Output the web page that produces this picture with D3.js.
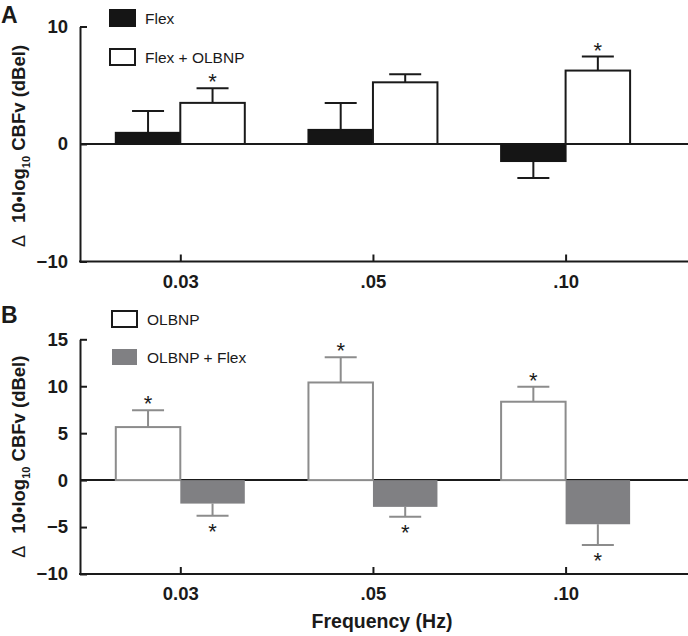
<!DOCTYPE html>
<html>
<head>
<meta charset="utf-8">
<script src="https://cdn.jsdelivr.net/npm/d3@7"></script>
<style>
  body { margin: 0; background: #fff; }
  svg { display: block; font-family: "Liberation Sans", Arial, sans-serif; }
</style>
</head>
<body>
<script>
var W = 688, H = 636;

// frequencies (x categories)
var freqs = ["0.03", ".05", ".10"];

// panel A
var flexA = [0.95, 1.2, -1.45];
var flexAErr = [1.85, 2.3, 1.45];
var flexAStar = [false, false, false];
var flexOlbnpA = [3.5, 5.25, 6.25];
var flexOlbnpAErr = [1.25, 0.68, 1.2];
var flexOlbnpAStar = [true, false, true];
var ticksA = [-10, 0, 10];

// panel B
var olbnpB = [5.65, 10.4, 8.35];
var olbnpBErr = [1.8, 2.7, 1.6];
var olbnpBStar = [true, true, true];
var olbnpFlexB = [-2.5, -2.85, -4.7];
var olbnpFlexBErr = [1.3, 1.05, 2.2];
var olbnpFlexBStar = [true, true, true];
var ticksB = [-10, -5, 0, 5, 10, 15];

var svg = d3.select("body").append("svg")
  .attr("width", W)
  .attr("height", H);

var axisLeftX = 80;
var bw = 64.5;
var x = d3.scalePoint().domain(freqs).range([180.3, 565.6]);

function panel(opts) {
  var y = d3.scaleLinear().domain(opts.domain).range(opts.range);
  var g = svg.append("g");

  // zero line
  g.append("line")
    .attr("x1", axisLeftX).attr("x2", W)
    .attr("y1", y(0)).attr("y2", y(0))
    .attr("stroke", "#1a1a1a").attr("stroke-width", 2);

  // series
  opts.series.forEach(function(s, si) {
    var rows = freqs.map(function(f, i) {
      return {f: f, v: s.values[i], e: s.err[i], star: s.star[i]};
    });
    var off = si === 0 ? -bw : 0;
    var sg = g.append("g");

    // error bars
    rows.forEach(function(d) {
      var cx = x(d.f) + off + bw / 2;
      var end = d.v >= 0 ? d.v + d.e : d.v - d.e;
      sg.append("line")
        .attr("x1", cx).attr("x2", cx)
        .attr("y1", y(d.v)).attr("y2", y(end))
        .attr("stroke", s.errColor).attr("stroke-width", 2);
      sg.append("line")
        .attr("x1", cx - 16).attr("x2", cx + 16)
        .attr("y1", y(end)).attr("y2", y(end))
        .attr("stroke", s.errColor).attr("stroke-width", 2);
      if (d.star) {
        var sy = d.v >= 0 ? y(end) - 11 : y(end) + 11;
        sg.append("text")
          .attr("x", cx).attr("y", sy)
          .attr("dy", "0.55em")
          .attr("text-anchor", "middle")
          .attr("font-size", 22)
          .attr("fill", "#1a1a1a")
          .text("*");
      }
    });

    sg.selectAll("rect")
      .data(rows)
      .enter().append("rect")
      .attr("x", function(d) { return x(d.f) + off; })
      .attr("y", function(d) { return y(Math.max(0, d.v)); })
      .attr("width", bw)
      .attr("height", function(d) { return Math.abs(y(d.v) - y(0)); })
      .attr("fill", s.fill)
      .attr("stroke", s.stroke)
      .attr("stroke-width", s.stroke === "none" ? 0 : 2);
  });

  // y axis
  var ya = g.append("g")
    .attr("transform", "translate(" + axisLeftX + ",0)")
    .call(d3.axisLeft(y).tickValues(opts.ticks).tickSize(-7).tickSizeOuter(0).tickPadding(12));
  ya.select(".domain").attr("stroke", "#1a1a1a").attr("stroke-width", 2);
  ya.selectAll(".tick line").attr("stroke", "#1a1a1a").attr("stroke-width", 2);
  ya.selectAll(".tick text")
    .attr("font-size", 18.5).attr("font-weight", "bold").attr("fill", "#1a1a1a")
    .attr("font-family", "Liberation Sans, Arial, sans-serif");

  // x axis
  var xa = g.append("g")
    .attr("transform", "translate(0," + y(opts.domain[0]) + ")")
    .call(d3.axisBottom(x).tickSize(-7).tickSizeOuter(0).tickPadding(13));
  xa.select(".domain").remove();
  xa.append("line")
    .attr("x1", axisLeftX - 1).attr("x2", W)
    .attr("stroke", "#1a1a1a").attr("stroke-width", 2);
  xa.selectAll(".tick line").attr("stroke", "#1a1a1a").attr("stroke-width", 2);
  xa.selectAll(".tick text")
    .attr("font-size", 18.5).attr("font-weight", "bold").attr("fill", "#1a1a1a")
    .attr("font-family", "Liberation Sans, Arial, sans-serif");

  // y title
  var tcy = (opts.range[0] + opts.range[1]) / 2 + opts.titleShift;
  var t = g.append("text")
    .attr("transform", "translate(25," + tcy + ") rotate(-90)")
    .attr("text-anchor", "middle")
    .attr("font-size", 18.5)
    .attr("fill", "#1a1a1a");
  t.append("tspan").attr("font-size", 18).text("\u0394");
  t.append("tspan").attr("dx", 12).attr("font-weight", "bold").text("10\u2022log");
  t.append("tspan").attr("font-weight", "bold").attr("font-size", 11).attr("dy", 5).text("10");
  t.append("tspan").attr("font-weight", "bold").attr("dy", -5).text(" CBFv (dBel)");

  // panel letter
  g.append("text")
    .attr("x", 1).attr("y", opts.letterY)
    .attr("font-size", 23).attr("font-weight", "bold").attr("fill", "#1a1a1a")
    .text(opts.letter);

  // legend
  opts.series.forEach(function(s, si) {
    var ly = opts.legendY[si];
    g.append("rect")
      .attr("x", opts.legendX).attr("y", ly)
      .attr("width", 25).attr("height", 16)
      .attr("fill", s.fill)
      .attr("stroke", s.legendStroke)
      .attr("stroke-width", s.legendStroke === "none" ? 0 : 2);
    g.append("text")
      .attr("x", opts.legendX + 35).attr("y", ly + 14)
      .attr("font-size", 15.5).attr("fill", "#1a1a1a")
      .text(s.name);
  });
}

panel({
  letter: "A", letterY: 23,
  domain: [-10, 10], range: [261.5, 26.5], ticks: ticksA, titleShift: 2,
  legendX: 110, legendY: [10, 49],
  series: [
    {name: "Flex", values: flexA, err: flexAErr, star: flexAStar,
     fill: "#151515", stroke: "#151515", errColor: "#1a1a1a", legendStroke: "#151515"},
    {name: "Flex + OLBNP", values: flexOlbnpA, err: flexOlbnpAErr, star: flexOlbnpAStar,
     fill: "#fff", stroke: "#1a1a1a", errColor: "#1a1a1a", legendStroke: "#1a1a1a"}
  ]
});

panel({
  letter: "B", letterY: 323,
  domain: [-10, 15], range: [574, 339.3], ticks: ticksB, titleShift: 0,
  legendX: 112, legendY: [311, 349],
  series: [
    {name: "OLBNP", values: olbnpB, err: olbnpBErr, star: olbnpBStar,
     fill: "#fff", stroke: "#8c8c8c", errColor: "#8c8c8c", legendStroke: "#1a1a1a"},
    {name: "OLBNP + Flex", values: olbnpFlexB, err: olbnpFlexBErr, star: olbnpFlexBStar,
     fill: "#808083", stroke: "none", errColor: "#8c8c8c", legendStroke: "none"}
  ]
});

// x axis title
svg.append("text")
  .attr("x", 382).attr("y", 628)
  .attr("text-anchor", "middle")
  .attr("font-size", 19.5).attr("font-weight", "bold").attr("fill", "#1a1a1a")
  .text("Frequency (Hz)");
</script>
</body>
</html>
